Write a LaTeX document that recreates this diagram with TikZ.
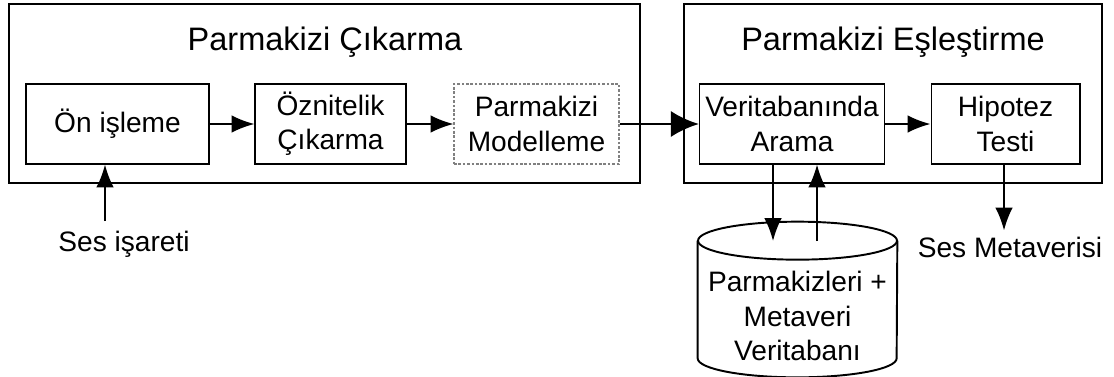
\documentclass[tikz,border=0pt]{standalone}
\usepackage{fontspec}
\setmainfont{Liberation Sans}
\usepackage{xcolor}
\usepackage{tikz}
\usetikzlibrary{positioning, arrows.meta}

\tikzset{
  group/.style={draw, line width=1.1pt, minimum height=3.58cm},
  block/.style={draw, line width=0.6pt, minimum height=1.6cm, align=center,
    font=\fontsize{16}{19.5}\selectfont},
  label/.style={font=\fontsize{16}{19}\selectfont},
  title/.style={font=\fontsize{18.5}{22}\selectfont},
  arr/.style={line width=1.1pt, -{Latex[length=13pt, width=10pt]}},
  bigarr/.style={line width=1.7pt, -{Latex[length=16pt, width=15pt]}}
}

\begin{document}
\begin{tikzpicture}[x=0.02cm, y=-0.02cm]
    \useasboundingbox (0,0) rectangle (1114,376);

    % groups
    \node [group, minimum width=12.62cm] (extract) at (324.5, 93.5) {};
    \node [group, minimum width=8.36cm] (match) at (893, 93.5) {};
    \node [title] (extractT) at (325, 42) {Parmakizi Çıkarma};
    \node [title] (matchT) at (893, 42) {Parmakizi Eşleştirme};

    % blocks
    \node [block, minimum width=3.66cm] (pre) at (117.5, 124) {Ön işleme};
    \node [block, minimum width=3.02cm] (feat) at (330.5, 124) {Öznitelik\\Çıkarma};
    \node [block, draw=gray, dash pattern=on 1.5pt off 1pt, minimum width=3.3cm] (model) at (536.5, 124) {Parmakizi\\Modelleme};
    \node [block, minimum width=3.64cm] (search) at (792, 124) {Veritabanında\\Arama};
    \node [block, minimum width=2.98cm] (hyp) at (1005.5, 124) {Hipotez\\Testi};

    % database
    \node [minimum width=3.98cm, minimum height=3cm, align=center, inner sep=0pt,
      font=\fontsize{16}{19.5}\selectfont] (db) at (797.5, 316) {Parmakizleri +\\Metaveri\\Veritabanı};
    \draw [line width=1.1pt] (db.north west) -- ([yshift=0.66cm]db.south west)
      arc [start angle=180, end angle=360, x radius=1.99cm, y radius=0.38cm] -- (db.north east);
    \draw [line width=1.1pt] (db.north) ellipse [x radius=1.99cm, y radius=0.38cm];

    % outside labels
    \node [label] (audio) at (124, 244) {Ses işareti};
    \node [label] (meta) at (1010, 247) {Ses Metaverisi};

    \coordinate (audioTop) at (105, 221);
    \coordinate (dbIn) at (773, 241);
    \coordinate (dbOut) at (817, 241);

    % connectors
    \draw [arr] (audioTop) to (audioTop |- pre.south);
    \draw [arr] (pre) to (feat);
    \draw [arr] (feat) to (model);
    \draw [bigarr] (model) to (search);
    \draw [arr] (search) to (hyp);
    \draw [arr] (dbIn |- search.south) to (dbIn);
    \draw [arr] (dbOut) to (dbOut |- search.south);
    \draw [arr] (hyp.south -| 1004, 0) to (meta.north -| 1004, 0);
  \end{tikzpicture}
\end{document}
